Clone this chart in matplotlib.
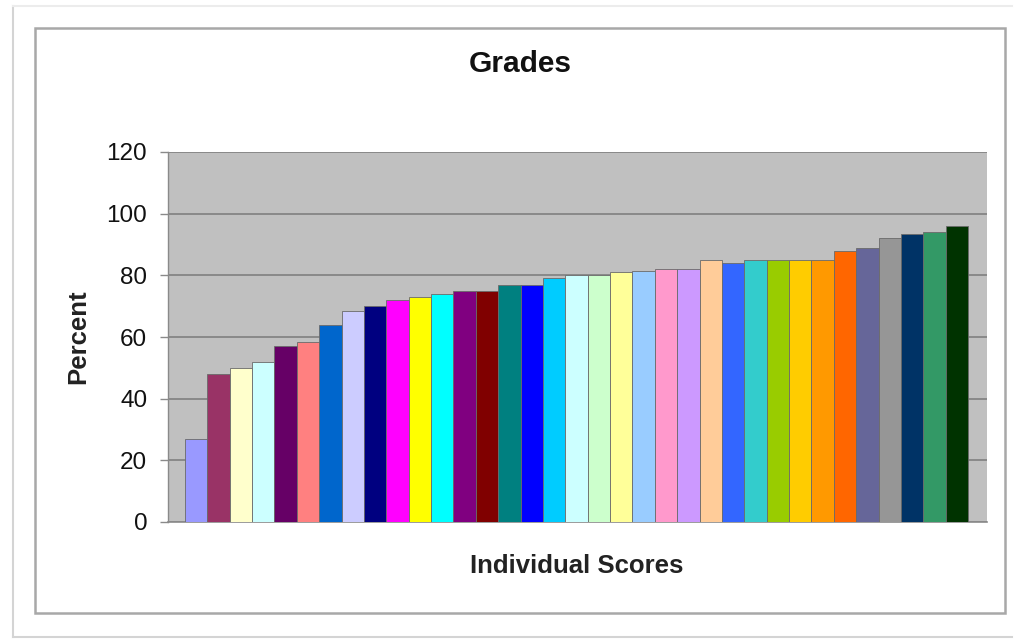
import matplotlib
matplotlib.use("Agg")
import matplotlib.pyplot as plt
from matplotlib.patches import Rectangle
from matplotlib.lines import Line2D

# scores, in the order drawn
scores = [27, 48, 50, 52, 57, 58.5, 64, 68.5, 70, 72, 73, 74, 75, 75, 77, 77,
          79, 80, 80, 81, 81.5, 82, 82, 85, 84, 85, 85, 85, 85, 88, 89, 92,
          93.5, 94, 96]

# classic spreadsheet palette, one colour per bar
bar_colors = ['#9999FF', '#993366', '#FFFFCC', '#CCFFFF', '#660066', '#FF8080',
              '#0066CC', '#CCCCFF', '#000080', '#FF00FF', '#FFFF00', '#00FFFF',
              '#800080', '#800000', '#008080', '#0000FF', '#00CCFF', '#CCFFFF',
              '#CCFFCC', '#FFFF99', '#99CCFF', '#FF99CC', '#CC99FF', '#FFCC99',
              '#3366FF', '#33CCCC', '#99CC00', '#FFCC00', '#FF9900', '#FF6600',
              '#666699', '#969696', '#003366', '#339966', '#003300']

y_ticks = [0, 20, 40, 60, 80, 100, 120]

plt.rcParams['font.family'] = ['Liberation Sans', 'DejaVu Sans']

W, H = 1016, 639
fig = plt.figure(figsize=(W / 100, H / 100), dpi=100)


def fx(px):
    return px / W


def fy(py):
    return 1 - py / H


# outer page border and chart frame
fig.add_artist(Line2D([fx(13), fx(13)], [fy(6), fy(637)], color='#d4d4d4', lw=1.5))
fig.add_artist(Line2D([fx(13), fx(1012)], [fy(6), fy(6)], color='#ececec', lw=1.5))
fig.add_artist(Line2D([fx(13), fx(1012)], [fy(637), fy(637)], color='#d4d4d4', lw=1.5))
fig.add_artist(Rectangle((fx(35), fy(613)), fx(1005) - fx(35), fy(28) - fy(613),
                         transform=fig.transFigure, fill=False,
                         edgecolor='#a8a8a8', lw=1.8))

ax = fig.add_axes([fx(168), fy(522), fx(987) - fx(168), fy(152) - fy(522)])
ax.set_facecolor('#C0C0C0')

x = list(range(len(scores)))
ax.bar(x, scores, width=1.0, color=bar_colors, edgecolor='#6a6a6a', linewidth=0.6,
       zorder=3)

ax.set_xlim(-1.26, len(scores) - 0.5 + 0.85)
ax.set_ylim(0, 120)
ax.set_yticks(y_ticks)
ax.set_xticks([])
ax.yaxis.grid(True, color='#7a7a7a', linewidth=1.1, zorder=1)
ax.set_axisbelow(True)
for side in ['top', 'right']:
    ax.spines[side].set_visible(False)
ax.spines['left'].set_color('#8a8a8a')
ax.spines['bottom'].set_color('#8a8a8a')
ax.spines['left'].set_linewidth(1.0)
ax.spines['bottom'].set_linewidth(1.2)
ax.tick_params(axis='y', direction='out', length=6, width=1, color='#8a8a8a',
               labelsize=17.5, pad=9, labelcolor='#111111')

fig.text(fx(520), fy(64), 'Grades', ha='center', va='center',
         fontsize=21.5, fontweight='bold', color='#111111')
fig.text(fx(78), fy(337), 'Percent', ha='center', va='center', rotation=90,
         fontsize=18.5, fontweight='bold', color='#222222')
fig.text(fx(577), fy(566), 'Individual Scores', ha='center', va='center',
         fontsize=18.5, fontweight='bold', color='#222222')

fig.savefig('out.png', dpi=100)
